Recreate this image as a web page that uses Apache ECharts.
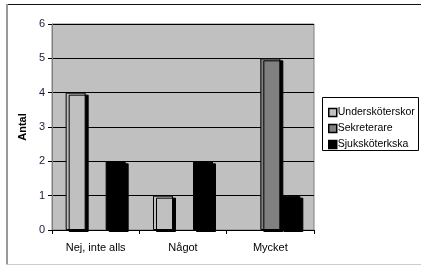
<!DOCTYPE html>
<html><head><meta charset="utf-8">
<script src="https://cdn.jsdelivr.net/npm/echarts@6/dist/echarts.min.js"></script>
<style>html,body{margin:0;padding:0;background:#fff}#c{width:421px;height:266px}</style>
</head><body><div id="c"></div>
<script>
const categories = ['Nej, inte alls', 'Något', 'Mycket'];
const seriesNames = ['Undersköterskor', 'Sekreterare', 'Sjuksköterkska'];
const underskoterskor = [4, 1, 0];
const sekreterare = [0, 0, 5];
const sjukskoterska = [2, 2, 1];
const yTicks = [0, 1, 2, 3, 4, 5, 6];

const colors = ['#C0C0C0', '#808080', '#000000'];
const values = [underskoterskor, sekreterare, sjukskoterska];

const chart = echarts.init(document.getElementById('c'), null, {renderer: 'canvas'});
const font = 'Arial, "Liberation Sans", sans-serif';
chart.setOption({
  animation: false,
  graphic: [
    {type: 'line', shape: {x1: 6, y1: 4.5, x2: 421, y2: 4.5}, style: {stroke: '#111', lineWidth: 1}},
    {type: 'line', shape: {x1: 7, y1: 4, x2: 7, y2: 264}, style: {stroke: '#999', lineWidth: 2}},
    {type: 'line', shape: {x1: 6, y1: 264.5, x2: 421, y2: 264.5}, style: {stroke: '#ccc', lineWidth: 1}},
    {type: 'rect', shape: {x: 322.5, y: 97.5, width: 96, height: 53}, style: {fill: '#fff', stroke: '#000', lineWidth: 1}, z: 0}
  ],
  grid: {left: 52, top: 24, width: 262, height: 206, show: true, backgroundColor: '#C0C0C0', borderColor: '#808080', borderWidth: 1},
  legend: {
    orient: 'vertical', left: 323, top: 102, itemWidth: 8, itemHeight: 8, itemGap: 5,
    data: seriesNames.map((n, i) => ({name: n, itemStyle: {color: colors[i], borderColor: '#000', borderWidth: 1.5}})),
    textStyle: {fontFamily: font, fontSize: 10.5, color: '#000', padding: [0, 0, 0, -4]},
    icon: 'rect'
  },
  xAxis: {
    type: 'category', data: categories,
    axisLine: {show: true, lineStyle: {color: '#000'}},
    axisTick: {show: true, length: 4, lineStyle: {color: '#000'}},
    axisLabel: {fontFamily: font, fontSize: 11, color: '#000', margin: 12},
    splitLine: {show: false}
  },
  yAxis: {
    type: 'value', min: yTicks[0], max: yTicks[yTicks.length - 1], interval: 1,
    name: 'Antal', nameLocation: 'middle', nameGap: 22, nameRotate: 90,
    nameTextStyle: {fontFamily: font, fontSize: 11, fontWeight: 'bold', color: '#000'},
    axisLine: {show: true, lineStyle: {color: '#808080'}},
    axisTick: {show: true, length: 4, lineStyle: {color: '#000'}},
    axisLabel: {fontFamily: font, fontSize: 11, color: '#1a1a3a', margin: 7},
    splitLine: {show: true, lineStyle: {color: '#000', width: 1}}
  },
  series: seriesNames.map((n, i) => ({
    name: n, type: 'bar', data: values[i].map(v => (v === 0 ? null : v)), barWidth: 20, barGap: '0%',
    itemStyle: {color: colors[i], borderColor: '#000', borderWidth: 1,
      shadowColor: '#000', shadowOffsetX: 3, shadowOffsetY: 2, shadowBlur: 0}
  }))
});
</script></body></html>
